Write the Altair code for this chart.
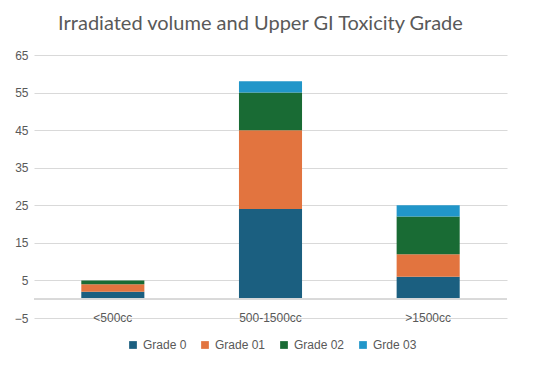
import altair as alt
import pandas as pd

categories = ["<500cc", "500-1500cc", ">1500cc"]
series = ["Grade 0", "Grade 01", "Grade 02", "Grde 03"]
grade0 = [2, 24, 6]
grade01 = [2, 21, 6]
grade02 = [1, 10, 10]
grade03 = [0, 3, 3]
colors = ["#1b5f80", "#e2743f", "#196b34", "#2196c9"]
y_ticks = [-5, 5, 15, 25, 35, 45, 55, 65]

rows = []
for si, (name, vals) in enumerate(zip(series, [grade0, grade01, grade02, grade03])):
    for c, v in zip(categories, vals):
        rows.append({"category": c, "series": name, "value": v, "order": si})
df = pd.DataFrame(rows)

txt = "#595959"
grid = "#d9d9d9"

bars = alt.Chart(df).mark_bar().encode(
    x=alt.X("category:N", sort=categories, title=None,
            scale=alt.Scale(paddingInner=0.6, paddingOuter=0.3),
            axis=alt.Axis(labelAngle=0, ticks=False, domain=False, labelBaseline="middle",
                          labelPadding=-1, labelColor=txt, labelFontSize=12,
                          labelFont="Liberation Sans")),
    y=alt.Y("value:Q", stack="zero", title=None,
            scale=alt.Scale(domain=[-5, 65], nice=False, zero=False),
            axis=alt.Axis(values=y_ticks, tickCount=20, ticks=False, domain=False, gridColor=grid,
                          labelOverlap=False, labelColor=txt, labelFontSize=12, labelPadding=6,
                          labelFont="Liberation Sans")),
    color=alt.Color("series:N", sort=series, title=None,
                    scale=alt.Scale(domain=series, range=colors),
                    legend=alt.Legend(orient="none", legendX=93, legendY=284,
                                      direction="horizontal", symbolType="square",
                                      symbolSize=60, symbolStrokeWidth=0, labelColor=txt,
                                      labelFontSize=12, labelFont="Liberation Sans",
                                      columnPadding=12)),
    order=alt.Order("order:Q", sort="ascending"),
)

zero = alt.Chart(df).mark_rule(color=grid, strokeWidth=1).encode(y=alt.datum(0))

chart = alt.layer(bars, zero).properties(
    width=473, height=263,
    background="white",
    autosize=alt.AutoSizeParams(type="none"),
    padding={"left": 26, "top": 47, "right": 30, "bottom": 39},
    title=alt.Title("Irradiated volume and Upper GI Toxicity Grade", fontSize=20,
                    font="Lato", fontWeight="normal", color=txt, anchor="middle",
                    baseline="alphabetic", offset=4, dx=-10, dy=5),
).configure_view(stroke=None)

chart.save("out.html", embed_options={"renderer": "svg", "actions": False})
